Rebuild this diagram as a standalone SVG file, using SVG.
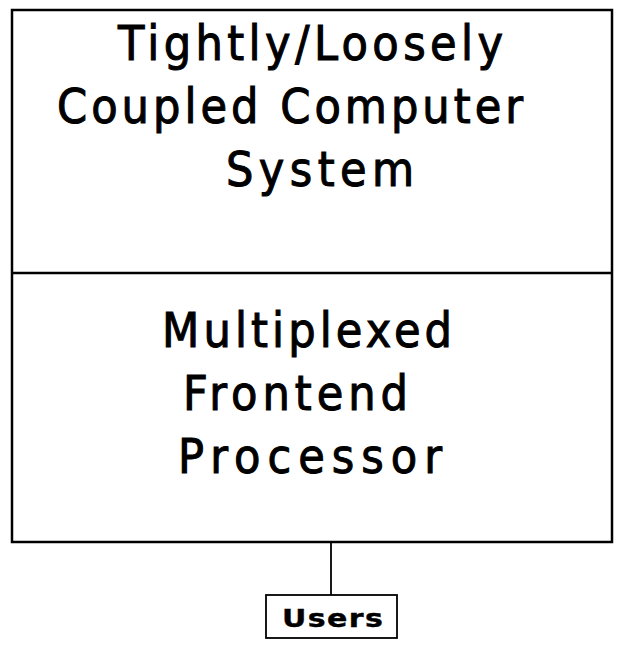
<svg xmlns="http://www.w3.org/2000/svg" width="622" height="645" viewBox="0 0 622 645">
  <style>
    .frame { fill: none; stroke: #000; stroke-width: 2.5; }
    .wire { fill: none; stroke: #000; stroke-width: 1.8; }
    .big { font-family: "DejaVu Sans Condensed", "DejaVu Sans", "Liberation Sans", sans-serif; font-size: 48px; fill: #000; stroke: #000; stroke-width: 1; }
    .small { font-family: "DejaVu Sans", "Liberation Sans", sans-serif; font-size: 25px; font-weight: bold; fill: #000; stroke: #000; stroke-width: 0.4; }
  </style>
  <rect width="622" height="645" fill="#fff"/>

  <!-- upper system, stacked on the frontend processor -->
  <g id="coupled-system">
    <path class="frame" d="M12 273 L12 10 L612 10 L612 273"/>
    <text class="big" x="118" y="60" textLength="385" lengthAdjust="spacing">Tightly/Loosely</text>
    <text class="big" x="57" y="123" textLength="466" lengthAdjust="spacing">Coupled Computer</text>
    <text class="big" x="226" y="186" textLength="188" lengthAdjust="spacing">System</text>
  </g>

  <g id="frontend-processor">
    <path class="frame" d="M12 273 L612 273 M12 273 L12 542 L612 542 L612 273"/>
    <text class="big" x="162" y="347" textLength="290" lengthAdjust="spacing">Multiplexed</text>
    <text class="big" x="183" y="410" textLength="225" lengthAdjust="spacing">Frontend</text>
    <text class="big" x="178" y="473" textLength="264" lengthAdjust="spacing">Processor</text>
  </g>

  <g id="connectors">
    <line class="wire" x1="331" y1="542" x2="331" y2="595"/>
  </g>

  <g id="users">
    <rect class="wire" x="266" y="595" width="131" height="43"/>
    <!-- wide bold label: glyphs stretched horizontally -->
    <text class="small" transform="translate(282 627) scale(1.2 1)" x="0" y="0" textLength="84" lengthAdjust="spacing">Users</text>
  </g>
</svg>
